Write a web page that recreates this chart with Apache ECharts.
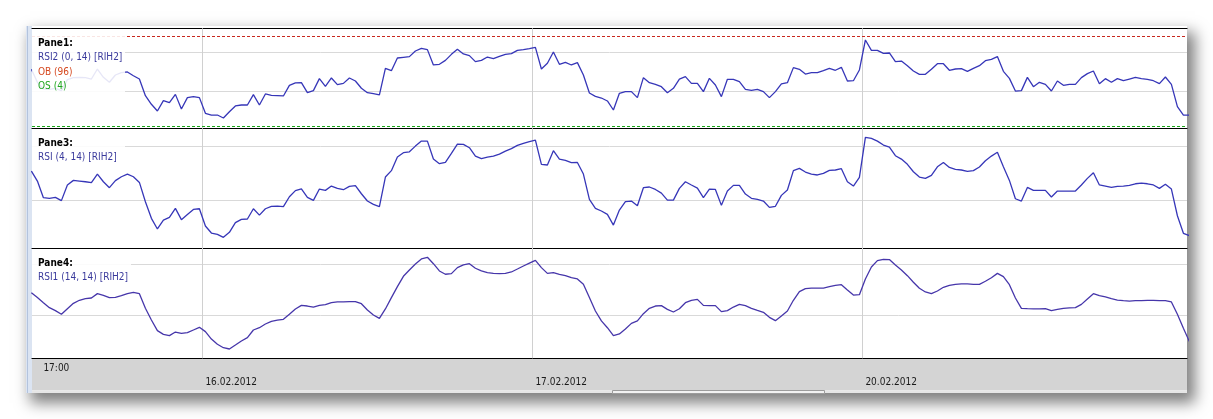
<!DOCTYPE html>
<html>
<head>
<meta charset="utf-8">
<title>RSI panes</title>
<script src="https://cdn.jsdelivr.net/npm/echarts@6/dist/echarts.min.js"></script>
<style>
  html, body { margin: 0; padding: 0; background: #fff; }
  #frame {
    position: absolute; left: 26px; top: 26px; width: 1161px; height: 367px;
    background: #fff; box-shadow: 6px 8px 14px 2px rgba(0, 0, 0, 0.5);
  }
  #chart { position: absolute; left: 0; top: 0; width: 1213px; height: 419px; }
</style>
</head>
<body>
<div id="frame"></div>
<div id="chart"></div>
<script>
// bar values, one per bar (index = bar number)
var rsi2Values = [
  62.4, 49.2, 42.4, 42.0, 43.1, 40.7, 51.9, 53.9, 54.2, 53.9,
  52.5, 62.7, 54.2, 49.2, 56.6, 59.0, 59.7, 55.9, 52.5, 35.6,
  26.8, 20.0, 30.5, 28.5, 36.9, 22.0, 33.6, 34.6, 33.6, 17.6,
  15.9, 15.9, 12.9, 19.3, 25.1, 26.1, 26.1, 36.6, 26.1, 37.3,
  35.9, 35.6, 35.3, 46.1, 48.5, 48.8, 38.6, 40.7, 52.9, 45.1,
  53.6, 46.8, 48.1, 53.6, 50.5, 43.1, 38.6, 37.6, 36.3, 63.4,
  61.0, 73.9, 74.6, 75.3, 81.0, 83.7, 82.4, 66.8, 67.5, 71.5,
  77.6, 82.7, 78.0, 76.3, 70.2, 71.5, 74.9, 73.2, 75.6, 77.6,
  78.3, 81.7, 82.4, 83.4, 84.7, 62.7, 68.5, 80.0, 67.5, 69.5,
  66.8, 69.2, 56.6, 38.3, 34.9, 33.2, 30.2, 21.0, 38.0, 39.7,
  39.7, 33.6, 53.9, 48.8, 47.1, 44.7, 38.6, 43.1, 52.5, 54.9,
  48.1, 48.1, 39.7, 53.2, 46.4, 34.6, 52.2, 52.2, 49.8, 42.0,
  41.0, 42.0, 39.7, 33.6, 39.7, 47.5, 48.8, 64.1, 62.4, 57.6,
  59.0, 59.0, 61.0, 63.4, 61.4, 64.4, 50.5, 50.8, 61.7, 92.2,
  81.7, 81.7, 78.6, 79.0, 70.2, 70.8, 66.1, 60.7, 57.3, 57.3,
  62.4, 68.1, 68.1, 61.4, 62.7, 63.1, 60.3, 63.4, 66.1, 71.2,
  72.5, 75.3, 60.3, 53.2, 40.3, 40.7, 54.2, 44.7, 49.2, 47.1,
  40.3, 50.5, 46.1, 47.1, 47.1, 53.9, 58.0, 60.7, 47.8, 52.9,
  49.2, 52.9, 50.8, 52.5, 54.2, 52.9, 52.2, 50.8, 47.8, 54.6,
  47.1, 24.4, 15.9, 15.9
];

var rsiValues = [
  61.7, 54.3, 42.0, 41.5, 42.2, 39.8, 51.4, 54.8, 54.3, 53.8,
  53.1, 59.5, 53.8, 49.4, 54.6, 57.5, 59.5, 57.5, 53.3, 39.0,
  26.7, 18.8, 25.4, 27.4, 34.1, 25.7, 29.6, 33.3, 33.8, 21.0,
  15.8, 14.8, 12.6, 16.3, 23.5, 25.9, 26.2, 33.8, 29.1, 33.8,
  35.6, 35.8, 35.3, 42.7, 47.2, 48.6, 42.2, 40.0, 48.4, 47.4,
  50.6, 48.9, 47.9, 50.4, 50.9, 44.9, 39.5, 37.0, 35.3, 57.3,
  62.0, 72.1, 75.3, 76.0, 80.2, 83.9, 83.9, 70.6, 67.2, 68.1,
  74.8, 81.7, 81.5, 79.0, 72.8, 70.9, 72.1, 72.8, 74.3, 76.5,
  78.3, 80.7, 82.2, 83.5, 84.7, 66.7, 66.2, 76.8, 70.6, 69.6,
  67.9, 68.1, 59.5, 40.7, 34.1, 32.1, 29.6, 21.7, 32.8, 39.0,
  39.5, 36.0, 49.4, 49.9, 48.1, 45.4, 40.2, 40.2, 48.9, 53.8,
  51.4, 49.1, 42.0, 48.4, 48.1, 36.3, 46.9, 51.1, 51.1, 44.7,
  41.5, 40.7, 39.5, 34.8, 35.6, 43.7, 47.7, 62.0, 63.7, 61.0,
  59.5, 58.8, 60.0, 62.2, 62.5, 63.5, 53.8, 50.6, 57.0, 86.7,
  85.9, 83.9, 81.0, 79.5, 73.1, 70.6, 66.7, 61.2, 57.3, 56.3,
  58.5, 64.9, 68.1, 64.4, 63.0, 62.5, 61.5, 62.0, 64.7, 69.4,
  72.8, 75.6, 64.9, 54.8, 41.2, 39.5, 49.6, 47.4, 47.4, 47.4,
  42.5, 46.9, 46.9, 46.9, 46.9, 51.4, 56.3, 60.5, 51.4, 50.6,
  49.6, 50.4, 50.6, 51.1, 52.3, 52.8, 52.3, 51.4, 48.9, 51.9,
  48.4, 28.6, 15.6, 13.8
];

var rsi1Values = [
  57.8, 53.9, 49.9, 46.0, 43.7, 40.8, 45.2, 49.4, 51.8, 53.1,
  53.6, 57.0, 55.7, 53.9, 54.1, 55.4, 57.0, 58.0, 57.0, 45.5,
  36.3, 28.0, 25.1, 24.1, 26.9, 25.9, 26.4, 28.5, 30.6, 27.2,
  21.4, 17.3, 14.6, 13.6, 16.7, 19.9, 22.5, 28.5, 30.3, 33.2,
  35.3, 36.3, 36.9, 40.8, 45.0, 47.8, 47.3, 46.5, 47.8, 48.4,
  49.9, 50.5, 50.5, 50.7, 50.7, 49.1, 44.2, 40.3, 37.6, 45.0,
  53.9, 62.5, 70.6, 75.6, 80.3, 84.2, 85.5, 80.5, 74.8, 72.2,
  72.7, 77.4, 79.5, 80.5, 76.9, 74.8, 73.5, 72.9, 72.7, 72.9,
  74.0, 76.3, 78.7, 81.0, 83.1, 77.4, 72.9, 73.5, 72.2, 71.1,
  69.5, 68.5, 64.3, 53.9, 43.4, 35.6, 30.3, 24.1, 25.4, 29.3,
  33.7, 35.6, 41.3, 45.5, 47.3, 47.6, 44.7, 42.6, 45.2, 49.9,
  51.8, 52.5, 47.8, 47.6, 47.6, 42.9, 43.7, 46.5, 48.6, 47.6,
  45.5, 43.9, 42.4, 38.4, 35.8, 39.5, 43.4, 51.8, 58.6, 60.9,
  61.4, 61.4, 61.4, 62.5, 63.5, 64.0, 59.9, 55.9, 56.2, 68.5,
  77.9, 82.9, 83.9, 83.7, 79.5, 75.6, 71.1, 65.9, 61.2, 58.3,
  57.0, 59.1, 62.0, 63.5, 64.3, 64.6, 64.6, 64.3, 64.3, 66.7,
  69.5, 72.9, 70.3, 64.0, 53.6, 45.5, 45.2, 45.0, 45.0, 45.2,
  43.7, 44.7, 45.5, 45.8, 46.0, 48.6, 52.8, 57.0, 55.4, 54.4,
  53.1, 52.0, 51.5, 51.2, 51.5, 51.5, 51.8, 51.8, 51.5, 51.5,
  50.5, 40.8, 29.8, 19.4
];

var gridLevels = [40, 80];
var obLevel = 96;
var osLevel = 4;
// day boundaries (between bars) and bottom axis labels
var dayBreaks = [28.5, 83.5, 138.5];
var timeLabelPos = [2, 28.5, 83.5, 138.5];
var timeLabels = ['17:00', '16.02.2012', '17.02.2012', '20.02.2012'];

var FONT = '"DejaVu Sans Condensed", "Liberation Sans", sans-serif';
var X_MIN = 0.1, X_MAX = 192.6;

var panes = [
  { top: 28.3, height: 100, min: 2.4, max: 104.1, values: rsi2Values, color: '#3636b8' },
  { top: 128.3, height: 119.7, min: 4.7, max: 93.4, values: rsiValues, color: '#3636b8' },
  { top: 248, height: 110.3, min: 6.3, max: 92.8, values: rsi1Values, color: '#4636aa' }
];

function toPoints(values) {
  return values.map(function (v, i) { return [i, v]; });
}

function paneLines(withBands) {
  var data = gridLevels.map(function (lv) {
    return { yAxis: lv, lineStyle: { color: '#d9d9d9', width: 1, type: 'solid' } };
  });
  dayBreaks.forEach(function (d) {
    data.push({ xAxis: d, lineStyle: { color: '#d0d0d0', width: 1, type: 'solid' } });
  });
  if (withBands) {
    data.push({ yAxis: obLevel, lineStyle: { color: '#c8281e', width: 1, type: [3, 2] } });
    data.push({ yAxis: osLevel, lineStyle: { color: '#18a818', width: 1, type: [3, 2] } });
  }
  return { silent: true, symbol: 'none', z: 1, label: { show: false }, animation: false, data: data };
}

var grids = [], xAxes = [], yAxes = [], series = [];
panes.forEach(function (p, i) {
  grids.push({ left: 32, right: 26, top: p.top, height: p.height });
  var isLast = i === panes.length - 1;
  xAxes.push({
    type: 'value', gridIndex: i, min: X_MIN, max: X_MAX, position: 'bottom',
    axisLine: { show: true, onZero: false, lineStyle: { color: '#000', width: 1.2 } },
    axisTick: { show: false },
    splitLine: { show: false },
    axisLabel: isLast ? {
      show: true,
      customValues: timeLabelPos,
      margin: 5,
      align: 'left',
      formatter: function (value) {
        var idx = timeLabelPos.indexOf(value);
        if (idx < 0) return '';
        return idx === 0 ? '{t|' + timeLabels[idx] + '}' : '{d|' + timeLabels[idx] + '}';
      },
      rich: {
        t: { fontFamily: FONT, fontSize: 10, color: '#1a1a1a', padding: [0, 0, 0, 0] },
        d: { fontFamily: FONT, fontSize: 10, color: '#1a1a1a', padding: [14, 0, 0, 3] }
      }
    } : { show: false }
  });
  yAxes.push({ type: 'value', gridIndex: i, min: p.min, max: p.max, show: false });
  series.push({
    type: 'line', xAxisIndex: i, yAxisIndex: i,
    data: toPoints(p.values),
    symbol: 'none', clip: true,
    lineStyle: { color: p.color, width: 1.3 },
    markLine: paneLines(i === 0)
  });
});
// top border of the first pane
xAxes.push({
  type: 'value', gridIndex: 0, min: X_MIN, max: X_MAX, position: 'top',
  axisLine: { show: true, onZero: false, lineStyle: { color: '#000', width: 1.2 } },
  axisTick: { show: false }, axisLabel: { show: false }, splitLine: { show: false }
});

// legend block in the top left corner of a pane: translucent box + text rows
function legendBox(boxY, boxH, boxW, firstY, lines) {
  var items = [{
    type: 'rect', z: 50, shape: { x: 32, y: boxY, width: boxW, height: boxH },
    style: { fill: 'rgba(255,255,255,0.88)' }
  }];
  lines.forEach(function (ln, j) {
    items.push({
      type: 'text', z: 51,
      style: {
        x: 38, y: firstY + j * 14.5, text: ln.text, fill: ln.color,
        font: (ln.bold ? 'bold ' : '') + '10px ' + FONT,
        textVerticalAlign: 'middle', verticalAlign: 'middle'
      }
    });
  });
  return items;
}

var graphics = [
  // window edge on the left
  { type: 'rect', z: -5, shape: { x: 26, y: 26, width: 6, height: 367 }, style: { fill: '#dbe4f2' } },
  { type: 'line', z: -4, shape: { x1: 27.5, y1: 26, x2: 27.5, y2: 393 }, style: { stroke: '#b3c3dd', lineWidth: 1 } },
  // time axis band
  { type: 'rect', z: -5, shape: { x: 32, y: 358.8, width: 1155, height: 31.5 }, style: { fill: '#d4d4d4' } },
  { type: 'rect', z: -5, shape: { x: 32, y: 390.3, width: 1155, height: 2.7 }, style: { fill: '#e6e6e6' } },
  { type: 'rect', z: -4, shape: { x: 612.5, y: 390.5, width: 212, height: 3 }, style: { fill: '#f2f2f2', stroke: '#9c9c9c', lineWidth: 1 } }
].concat(
  legendBox(30, 64, 93, 43, [
    { text: 'Pane1:', color: '#000', bold: true },
    { text: 'RSI2 (0, 14) [RIH2]', color: '#3a3a9c' },
    { text: 'OB (96)', color: '#d5481f' },
    { text: 'OS (4)', color: '#1ea51e' }
  ]),
  legendBox(134, 31, 93, 143.3, [
    { text: 'Pane3:', color: '#000', bold: true },
    { text: 'RSI (4, 14) [RIH2]', color: '#3a3a9c' }
  ]),
  legendBox(254, 31, 99, 263.3, [
    { text: 'Pane4:', color: '#000', bold: true },
    { text: 'RSI1 (14, 14) [RIH2]', color: '#3a3a9c' }
  ])
);

var chart = echarts.init(document.getElementById('chart'));
chart.setOption({
  animation: false,
  backgroundColor: 'transparent',
  grid: grids,
  xAxis: xAxes,
  yAxis: yAxes,
  series: series,
  graphic: graphics
});
</script>
</body>
</html>
